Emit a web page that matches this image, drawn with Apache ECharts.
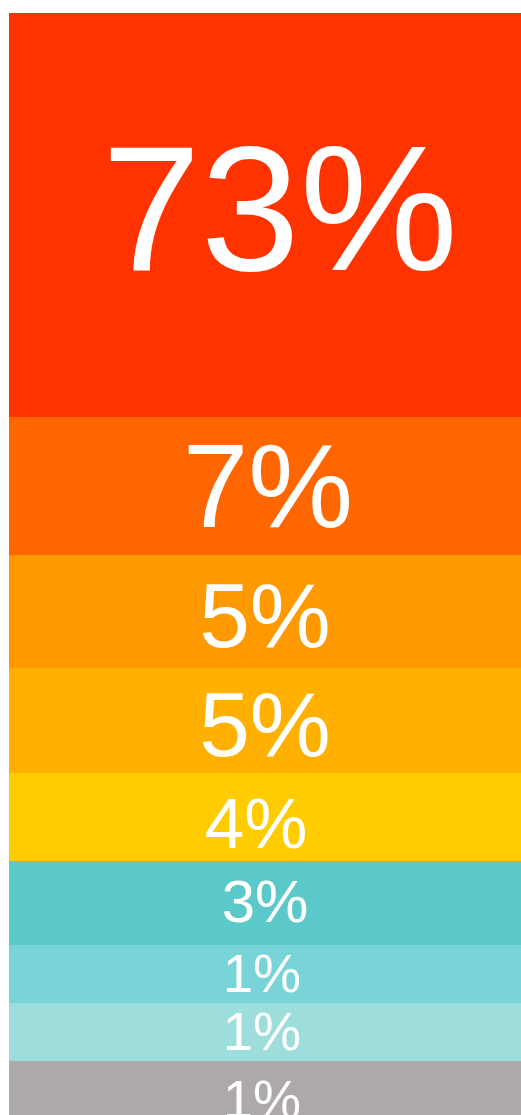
<!DOCTYPE html>
<html>
<head>
<meta charset="utf-8">
<script src="https://cdn.jsdelivr.net/npm/echarts@6/dist/echarts.min.js"></script>
<style>
html,body{margin:0;padding:0;background:#fff;}
#chart{width:521px;height:1115px;}
</style>
</head>
<body>
<div id="chart"></div>
<script>
// Data
const segmentNames = ['A','B','C','D','E','F','G','H','I'];
const percentLabels = [73, 7, 5, 5, 4, 3, 1, 1, 1];
// relative visual weight of each segment
const segmentWeights = [404, 138, 113, 105, 88, 84, 58, 58, 79];

// Styles
const colors = ['#FF3300','#FF6600','#FF9900','#FFB000','#FFCC00','#5BC9CA','#78D4D7','#9DDEDD','#ADA9A8'];
const fontSizes = [178, 118, 91, 91, 71, 60, 54, 54, 54];
const labelOffsets = [[15,6],[3,8],[0,10],[0,10],[-9,11],[0,2],[-3,3],[-3,3],[-3,3]];

const total = segmentWeights.reduce((a,b)=>a+b,0);
const chart = echarts.init(document.getElementById('chart'), null, {renderer:'canvas'});
const series = segmentNames.map((n,i)=>({
  name: n,
  type: 'bar',
  stack: 'all',
  barWidth: '100%',
  data: [segmentWeights[i]],
  itemStyle: {color: colors[i]},
  emphasis: {disabled: true},
  label: {
    show: true,
    position: 'inside',
    formatter: () => percentLabels[i] + '%',
    color: '#fff',
    fontFamily: '"Liberation Sans", Arial, sans-serif',
    fontSize: fontSizes[i],
    offset: labelOffsets[i]
  }
}));
chart.setOption({
  animation: false,
  grid: {left: 9, right: 0, top: 13, height: total, outerBoundsMode: 'none', containLabel: false},
  xAxis: {type: 'category', data: ['x'], show: false, boundaryGap: true},
  yAxis: {type: 'value', inverse: true, min: 0, max: total, show: false},
  series: series
});
</script>
</body>
</html>
